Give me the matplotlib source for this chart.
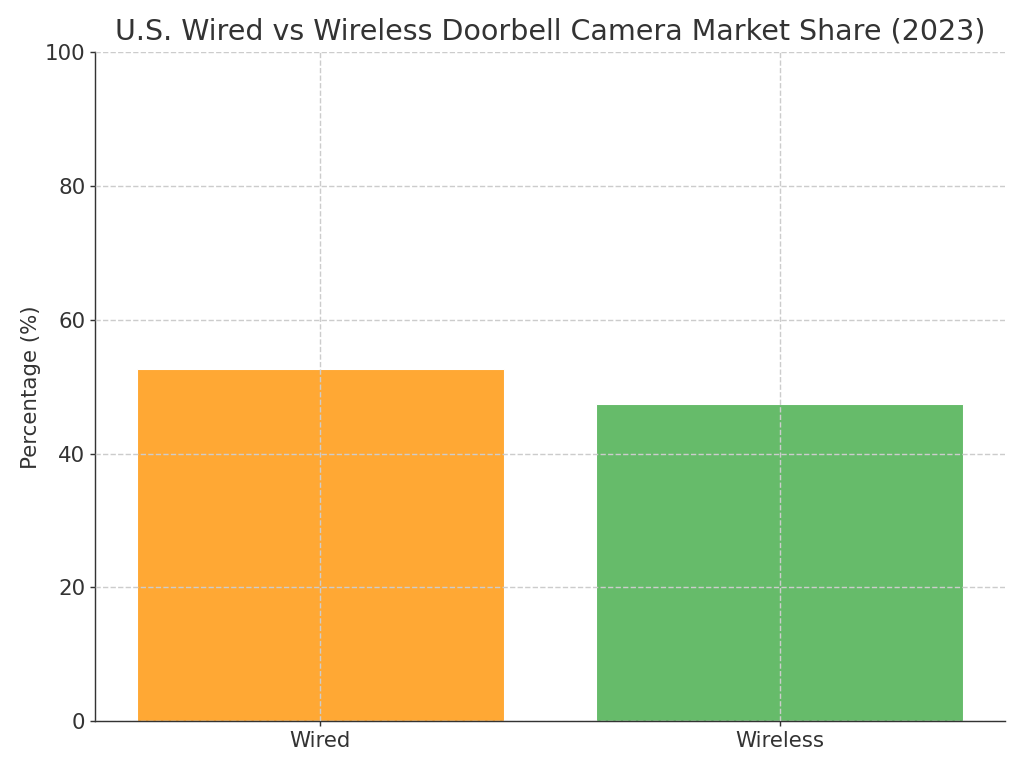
import matplotlib.pyplot as plt

# Market share data
categories = ["Wired", "Wireless"]
shares = [52.6, 47.4]
colors = ["#FFA834", "#66BB6A"]

fig, ax = plt.subplots(figsize=(8, 6), dpi=128)
fig.subplots_adjust(left=0.093, right=0.981, top=0.932, bottom=0.061)

ax.bar(categories, shares, color=colors, edgecolor="white", linewidth=0.6, zorder=1)
ax.grid(True, linestyle="--", color="#cccccc", linewidth=0.8, zorder=2)
ax.set_axisbelow(False)

ax.set_ylim(0, 100)
ax.set_ylabel("Percentage (%)", fontsize=12, color="#333333", labelpad=2)
ax.set_title("U.S. Wired vs Wireless Doorbell Camera Market Share (2023)",
             fontsize=16, color="#333333", pad=7)
ax.tick_params(labelsize=12, colors="#333333", length=3, pad=2.5)
for side in ["top", "right"]:
    ax.spines[side].set_visible(False)
for side in ["left", "bottom"]:
    ax.spines[side].set_color("#333333")

fig.savefig("out.png")
